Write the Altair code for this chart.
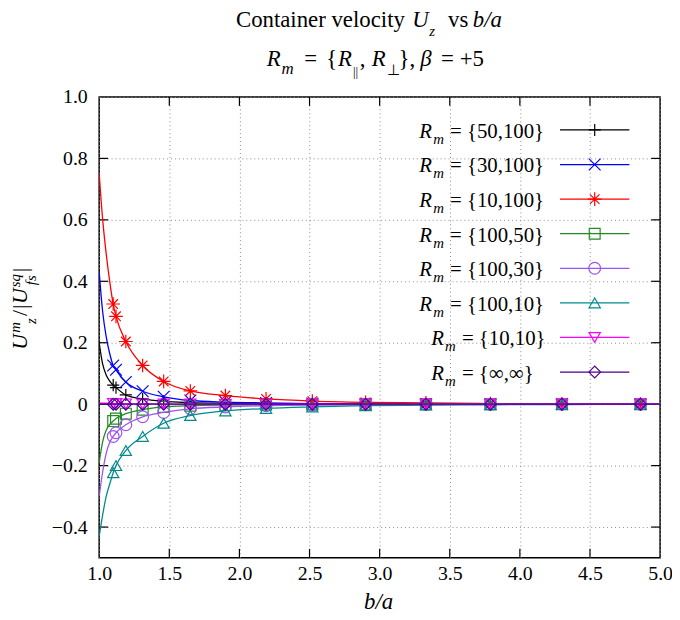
import altair as alt
import pandas as pd

# ---------------- data ----------------
series_names = ["{50,100}", "{30,100}", "{10,100}", "{100,50}",
                "{100,30}", "{100,10}", "{10,10}", "{∞,∞}"]

marker_x = [1.10, 1.12, 1.19, 1.31, 1.46, 1.65, 1.90, 2.19, 2.52, 2.90, 3.33, 3.79, 4.30, 4.86]

marker_y = [
    [0.062, 0.054, 0.030, 0.017, 0.009, 0.005, 0.003, 0.002, 0.001, 0.0006, 0.0003, 0.0002, 0.0001, 0.0001],
    [0.126, 0.112, 0.072, 0.042, 0.024, 0.012, 0.007, 0.004, 0.002, 0.001, 0.0006, 0.0003, 0.0002, 0.0001],
    [0.326, 0.286, 0.204, 0.126, 0.074, 0.043, 0.028, 0.017, 0.010, 0.006, 0.004, 0.002, 0.001, 0.0007],
    [-0.055, -0.047, -0.031, -0.018, -0.009, -0.005, -0.003, -0.002, -0.001, -0.0005, -0.0003, -0.0002, -0.0001, -0.0001],
    [-0.105, -0.093, -0.067, -0.041, -0.027, -0.015, -0.009, -0.005, -0.003, -0.002, -0.001, -0.0006, -0.0003, -0.0002],
    [-0.223, -0.200, -0.151, -0.105, -0.062, -0.037, -0.022, -0.014, -0.009, -0.005, -0.003, -0.002, -0.001, -0.0005],
    [0.002, 0.002, 0.001, 0.001, 0.0005, 0.0003, 0.0002, 0.0001, 0.0, 0.0, 0.0, 0.0, 0.0, 0.0],
    [0.0, 0.0, 0.0, 0.0, 0.0, 0.0, 0.0, 0.0, 0.0, 0.0, 0.0, 0.0, 0.0, 0.0],
]

# extra readings of the continuous curves near the inner wall and at the right edge
curve_head_x = [1.0, 1.025, 1.05, 1.075]
curve_head_y = [
    [0.20, 0.13, 0.095, 0.075],
    [0.43, 0.30, 0.22, 0.165],
    [0.75, 0.60, 0.49, 0.40],
    [-0.19, -0.122, -0.085, -0.066],
    [-0.30, -0.22, -0.16, -0.125],
    [-0.43, -0.36, -0.30, -0.26],
    [0.004, 0.003, 0.003, 0.002],
    [0.0, 0.0, 0.0, 0.0],
]
curve_tail_x = [5.0]
curve_tail_y = [[0.0001], [0.0001], [0.0005], [-0.0001], [-0.0001], [-0.0004], [0.0], [0.0]]

x_ticks = [1.0, 1.5, 2.0, 2.5, 3.0, 3.5, 4.0, 4.5, 5.0]
y_ticks = [-0.4, -0.2, 0.0, 0.2, 0.4, 0.6, 0.8, 1.0]

# ---------------- styles ----------------
colors = ["#000000", "#0000ff", "#ff0000", "#228b22",
          "#9955ee", "#008b8b", "#ff00ff", "#4b0090"]
shapes = ["M-1,0L1,0M0,-1L0,1",
          "M-1,-1L1,1M-1,1L1,-1",
          "M-1,0L1,0M0,-1L0,1M-0.7,-0.7L0.7,0.7M-0.7,0.7L0.7,-0.7",
          "square", "circle", "triangle-up", "triangle-down", "diamond"]
sizes = [150, 140, 190, 120, 140, 130, 130, 140]

FONT = "Liberation Serif"
W, H = 566, 465

rows_c, rows_m = [], []
for i in range(len(series_names)):
    xs = curve_head_x + marker_x + curve_tail_x
    ys = curve_head_y[i] + marker_y[i] + curve_tail_y[i]
    for a, b in zip(xs, ys):
        rows_c.append({"s": i, "x": a, "y": b})
    for a, b in zip(marker_x, marker_y[i]):
        rows_m.append({"s": i, "x": a, "y": b})
curve_df = pd.DataFrame(rows_c)
marker_df = pd.DataFrame(rows_m)

XS = alt.Scale(domain=[1.0, 5.0], nice=False, zero=False)
YS = alt.Scale(domain=[-0.5, 1.0], nice=False, zero=False)
x_axis = alt.Axis(values=x_ticks, format=".1f", title=None, ticks=False, domain=False,
                  grid=True, gridDash=[1, 3], gridColor="#8c8c8c", gridWidth=1,
                  labelFont=FONT, labelFontSize=20, labelColor="black", labelPadding=6,
                  labelFlush=False, labelOverlap=False)
y_axis = alt.Axis(values=y_ticks, title=None, ticks=False, domain=False,
                  labelExpr="datum.value == 0 ? '0' : format(datum.value, '.1f')",
                  grid=True, gridDash=[1, 3], gridColor="#8c8c8c", gridWidth=1,
                  labelFont=FONT, labelFontSize=20, labelColor="black", labelPadding=12,
                  labelFlush=False, labelOverlap=False)


def X():
    return alt.X("x:Q", scale=XS, axis=x_axis)


def Y():
    return alt.Y("y:Q", scale=YS, axis=y_axis)


layers = []

# inward ticks on all four borders
xt = pd.DataFrame({"x": x_ticks[1:-1]})
yt = pd.DataFrame({"y": y_ticks[:-1]})
layers.append(alt.Chart(xt).mark_rule(color="black", strokeWidth=1.2).encode(
    x=X(), y=alt.value(H - 9), y2=alt.value(H)))
layers.append(alt.Chart(xt).mark_rule(color="black", strokeWidth=1.2).encode(
    x=X(), y=alt.value(0), y2=alt.value(9)))
layers.append(alt.Chart(yt).mark_rule(color="black", strokeWidth=1.2).encode(
    y=Y(), x=alt.value(0), x2=alt.value(9)))
layers.append(alt.Chart(yt).mark_rule(color="black", strokeWidth=1.2).encode(
    y=Y(), x=alt.value(W - 9), x2=alt.value(W)))

# series: line + markers
for i in range(len(series_names)):
    layers.append(alt.Chart(curve_df[curve_df.s == i]).mark_line(
        color=colors[i], strokeWidth=1.3, interpolate="monotone", clip=True).encode(x=X(), y=Y()))
    layers.append(alt.Chart(marker_df[marker_df.s == i]).mark_point(
        shape=shapes[i], filled=False, color=colors[i], size=sizes[i], strokeWidth=1.2,
        opacity=1, clip=True).encode(x=X(), y=Y()))

dummy = pd.DataFrame({"d": [0]})


def label(s, x, y, size, italic=False, align="left", angle=0, color="black"):
    kw = dict(text=s, font=FONT, fontSize=size, align=align, baseline="alphabetic", color=color)
    if italic:
        kw["fontStyle"] = "italic"
    if angle:
        kw["angle"] = angle
    return alt.Chart(dummy).mark_text(**kw).encode(x=alt.value(x), y=alt.value(y))


# legend
for i, name in enumerate(series_names):
    yc = 33.3 + 34.9 * i
    rx = 323 if i < 6 else 335
    layers.append(alt.Chart(dummy).mark_rule(color=colors[i], strokeWidth=1.3).encode(
        x=alt.value(465), x2=alt.value(535), y=alt.value(yc)))
    layers.append(alt.Chart(dummy).mark_point(
        shape=shapes[i], filled=False, color=colors[i], size=sizes[i], strokeWidth=1.2,
        opacity=1).encode(x=alt.value(500), y=alt.value(yc)))
    layers.append(label("R", rx, yc + 8, 21, italic=True))
    layers.append(label("m", rx + 14, yc + 14, 15, italic=True))
    layers.append(label("= " + name, rx + 31, yc + 8, 21))

# title line 1
layers += [
    label("Container velocity", 138, -71, 23),
    label("U", 316, -71, 23, italic=True),
    label("z", 333, -62, 15, italic=True),
    label("vs", 352, -71, 23),
    label("b/a", 377, -71, 23, italic=True),
]
# title line 2
layers += [
    label("R", 169, -31.5, 23, italic=True),
    label("m", 184, -23.5, 17, italic=True),
    label("=", 207, -31.5, 23),
    label("{", 229, -31.5, 23),
    label("R", 241, -31.5, 23, italic=True),
    label("||", 256, -21, 13),
    label(",", 263, -31.5, 23),
    label("R", 275, -31.5, 23, italic=True),
    label("⊥", 290, -22, 15),
    label("},", 302, -31.5, 23),
    label("β", 324, -31.5, 23, italic=True),
    label("= +5", 345, -31.5, 23),
]
# x-axis title
layers.append(label("b/a", 282, 517, 23, italic=True, align="center"))
# y-axis title (rotated)
layers += [
    label("U", -73, 255, 22, italic=True, angle=270),
    label("m", -80, 238, 15, italic=True, angle=270),
    label("z", -64, 229, 15, italic=True, angle=270),
    label("/", -73, 221, 22, angle=270),
    label("|", -73, 214, 22, angle=270),
    label("U", -73, 209, 22, italic=True, angle=270),
    label("sq", -80, 192, 15, italic=True, angle=270),
    label("fs", -64, 190, 15, italic=True, angle=270),
    label("|", -73, 177, 22, angle=270),
]

chart = alt.layer(*layers).properties(
    width=W, height=H,
    autosize=alt.AutoSizeParams(type="none"),
    padding={"left": 92, "top": 87, "right": 12, "bottom": 58},
).configure_view(stroke="black", strokeWidth=1.5).configure_axis(
    labelFont=FONT, labelFontSize=20, labelColor="black")

chart.save("out.html", embed_options={"renderer": "svg", "actions": False})
